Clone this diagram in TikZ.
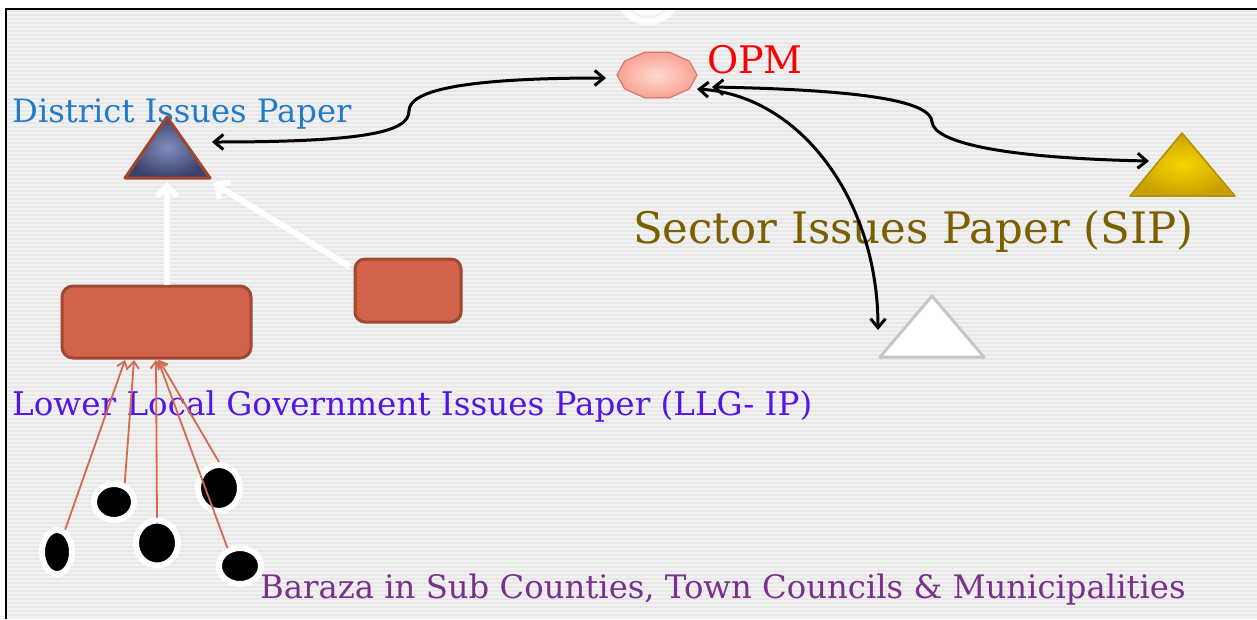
\documentclass[tikz,border=0pt]{standalone}
\usepackage{fontspec}
\setmainfont{DejaVu Serif}
\usetikzlibrary{arrows.meta,shapes.geometric}

\definecolor{bgpanel}{RGB}{242,242,242}
\definecolor{bgline}{RGB}{232,232,232}
\definecolor{rectfill}{RGB}{208,99,74}
\definecolor{rectedge}{RGB}{160,72,52}
\definecolor{feedline}{RGB}{214,104,80}
\definecolor{distblue}{RGB}{34,122,200}
\definecolor{llgviolet}{RGB}{84,22,228}
\definecolor{sipolive}{RGB}{122,96,0}
\definecolor{barazapurple}{RGB}{122,48,140}
\definecolor{triedge}{RGB}{160,70,45}
\definecolor{triin}{RGB}{130,140,188}
\definecolor{triout}{RGB}{58,66,108}
\definecolor{goldin}{RGB}{246,214,0}
\definecolor{goldout}{RGB}{200,160,0}
\definecolor{goldedge}{RGB}{178,142,0}
\definecolor{opmin}{RGB}{255,218,208}
\definecolor{opmout}{RGB}{248,162,148}
\definecolor{opmedge}{RGB}{214,122,106}
\definecolor{opmred}{RGB}{250,0,0}

\tikzset{
  paperbox/.style={draw=rectedge, fill=rectfill, line width=3pt, rounded corners=11pt, inner sep=0pt},
  meeting/.style={ellipse, fill=black, draw=white, line width=6pt, inner sep=0pt},
  link/.style={black, line width=3pt, {Straight Barb[length=9pt,width=15pt]}-{Straight Barb[length=9pt,width=15pt]}},
  upflow/.style={white, line width=6pt, -{Straight Barb[length=10pt,width=20pt]}},
  feed/.style={feedline, line width=1.8pt, -{Straight Barb[length=7pt,width=11pt]}},
  label/.style={anchor=base west, inner sep=0pt},
}

\begin{document}
\begin{tikzpicture}[x=1pt,y=-1pt]
\useasboundingbox (0,0) rectangle (1257,619);

% page and striped panel
\fill[white] (0,0) rectangle (1257,619);
\fill[bgpanel] (6,9) rectangle (1257,619);
\foreach \s in {11,15,...,617}
  \draw[bgline, line width=1.3pt] (6,\s) -- (1257,\s);
\begin{scope}
  \clip (6,9) rectangle (1257,619);
  \fill[white, opacity=0.85] (648,-8) circle (33pt);
  \draw[black!6, line width=2pt] (648,-8) circle (25pt);
\end{scope}
\draw[black, line width=1.5pt] (6,619) -- (6,9) -- (1257,9);

% labels
\node[label, text=distblue, font=\fontsize{32.2}{37}\selectfont] (tdist) at (12,122) {District Issues Paper};
\node[label, text=opmred, font=\fontsize{38}{44}\selectfont] (topm) at (707,73) {OPM};
\node[label, text=sipolive, font=\fontsize{43.4}{50}\selectfont] (tsip) at (633,243) {Sector Issues Paper (SIP)};
\node[label, text=llgviolet, font=\fontsize{32.6}{38}\selectfont] (tllg) at (12,415) {Lower Local Government Issues Paper (LLG- IP)};
\node[label, text=barazapurple, font=\fontsize{32.3}{38}\selectfont] (tbaraza) at (260,598) {Baraza in Sub Counties, Town Councils \& Municipalities};

% OPM decagon
\shade[inner color=opmin, outer color=opmout, draw=opmedge, line width=1.2pt]
  (697,75) -- (689.4,61.1) -- (669.4,52.2) -- (644.6,52.2) -- (624.6,61.1)
  -- (617,75) -- (624.6,88.9) -- (644.6,97.8) -- (669.4,97.8) -- (689.4,88.9) -- cycle;
\coordinate (opmL) at (606,78);
\coordinate (opmR) at (712,87);
\coordinate (opmB) at (697,89);

% district triangle
\shade[inner color=triin, outer color=triout] (167,117) -- (210,178) -- (125,178) -- cycle;
\draw[triedge, line width=3pt, line join=round] (167,117) -- (210,178) -- (125,178) -- cycle;
\coordinate (distR) at (212,142);
\coordinate (distB) at (167,182);
\coordinate (distBR) at (213,183);

% sector triangles
\shade[inner color=goldin, outer color=goldout] (1182,133) -- (1235,196) -- (1130,196) -- cycle;
\draw[goldedge, line width=1.5pt, line join=round] (1182,133) -- (1235,196) -- (1130,196) -- cycle;
\coordinate (goldL) at (1149,161);
\draw[black!22, fill=white, line width=3pt, line join=round] (932,296) -- (984,357) -- (880,357) -- cycle;
\coordinate (whiteT) at (878,330);

% issues papers
\node[paperbox, minimum width=189pt, minimum height=72pt] (llg) at (156.5,322) {};
\node[paperbox, minimum width=106pt, minimum height=63pt, rounded corners=10pt] (side) at (408,290.5) {};

% baraza meetings
\node[meeting, minimum width=30pt, minimum height=44pt] (m1) at (57,552) {};
\node[meeting, minimum width=40pt, minimum height=36pt] (m2) at (114,502) {};
\node[meeting, minimum width=42pt, minimum height=45pt] (m3) at (157,543) {};
\node[meeting, minimum width=42pt, minimum height=46pt] (m4) at (219,488) {};
\node[meeting, minimum width=42pt, minimum height=36pt] (m5) at (240,566) {};

% flows into the LLG paper
\draw[feed] (m1.70) -- (125,360);
\draw[feed] (m2.60) -- (134,360);
\draw[feed] (m3.north) -- (156,360);
\draw[feed] (m5.125) -- (158,360);
\draw[feed] (m4.north) -- (159,360);

% flows into the district paper
\draw[upflow] (llg.north -| distB) -- (distB);
\draw[upflow] (side.north west) ++(-4,9) -- (distBR);

% links with OPM
\draw[link] (distR) .. controls (365,142) and (409,132) .. (409,111)
            .. controls (409,92) and (455,78) .. (opmL);
\draw[link] (opmR) .. controls (870,90) and (931,102) .. (932,122)
            .. controls (934,142) and (1000,158) .. (goldL);
\draw[link] (opmB) .. controls (800,95) and (878,200) .. (whiteT);
\end{tikzpicture}
\end{document}
